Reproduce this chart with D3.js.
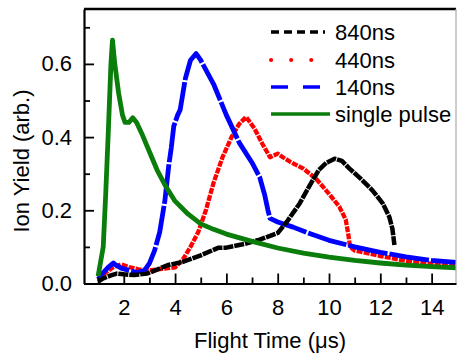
<!DOCTYPE html>
<html><head><meta charset="utf-8">
<script src="https://cdn.jsdelivr.net/npm/d3@7"></script>
<style>body{margin:0;background:#fff}svg{display:block;font-family:"Liberation Sans",Arial,sans-serif}</style>
</head><body><svg id="c" width="457" height="360"></svg>
<script>
const seriesNames = ["840ns","440ns","140ns","single pulse"];
const seriesColors = ["#000000","#ff0000","#0000ff","#0a7d0a"];
const xTicks = [2,4,6,8,10,12,14];
const yTicks = [0.0,0.2,0.4,0.6];
const yTickLabels = ["0.0","0.2","0.4","0.6"];

const t840 = [1.0,1.2,1.5,1.73,2.0,2.4,2.9,3.3,3.7,4.3,5.0,5.7,6.0,6.7,7.3,8.0,8.35,8.85,9.25,9.6,9.9,10.22,10.5,10.8,11.3,11.7,12.1,12.35,12.47,12.55];
const y840 = [0.005,0.014,0.022,0.027,0.025,0.023,0.027,0.038,0.05,0.059,0.077,0.098,0.098,0.108,0.12,0.138,0.168,0.218,0.268,0.31,0.33,0.341,0.335,0.314,0.282,0.254,0.218,0.182,0.15,0.105];

const t440 = [1.0,1.3,1.6,1.9,2.2,2.6,3.0,3.5,4.0,4.3,4.6,4.9,5.2,5.5,5.85,6.2,6.5,6.77,7.1,7.4,7.7,8.0,8.2,8.5,9.0,9.5,10.0,10.4,10.65,10.75,10.82,11.0,12.0,13.0,14.0,14.95];
const y440 = [0.01,0.03,0.045,0.052,0.045,0.038,0.036,0.04,0.044,0.065,0.1,0.14,0.2,0.275,0.345,0.4,0.436,0.455,0.423,0.382,0.345,0.355,0.345,0.332,0.314,0.286,0.245,0.21,0.175,0.135,0.1,0.09,0.075,0.062,0.054,0.048];

const t140 = [1.0,1.2,1.4,1.6,1.7,1.9,2.2,2.5,2.8,3.0,3.2,3.4,3.6,3.75,3.85,3.95,4.1,4.2,4.4,4.6,4.82,5.0,5.5,6.0,6.5,7.0,7.3,7.5,7.62,7.7,8.0,8.6,9.3,10.0,11.0,12.0,13.0,14.0,14.95];
const y140 = [0.012,0.03,0.045,0.056,0.05,0.042,0.036,0.03,0.035,0.055,0.09,0.14,0.225,0.32,0.37,0.43,0.46,0.475,0.56,0.61,0.628,0.61,0.545,0.46,0.385,0.33,0.29,0.24,0.2,0.178,0.168,0.154,0.135,0.118,0.1,0.085,0.073,0.063,0.058];

const tSingle = [1.0,1.2,1.3,1.4,1.5,1.56,1.65,1.8,1.95,2.05,2.2,2.35,2.5,2.7,3.0,3.3,3.6,4.0,4.5,5.0,5.5,6.0,7.0,8.0,9.0,10.0,11.0,12.0,13.0,14.0,14.95];
const ySingle = [0.02,0.1,0.25,0.42,0.6,0.665,0.6,0.52,0.46,0.44,0.44,0.453,0.44,0.41,0.36,0.31,0.27,0.225,0.19,0.163,0.148,0.135,0.115,0.097,0.083,0.072,0.063,0.056,0.05,0.046,0.043];

const W=457,H=360;
const svg=d3.select("#c");
const x=d3.scaleLinear().domain([0.45,14.95]).range([84,456]);
const y=d3.scaleLinear().domain([0,0.75]).range([283.5,9]);
const FS="22px";

const series=[
  {name:seriesNames[0],t:t840,v:y840,color:seriesColors[0],dash:"10,1",cap:"butt",w:4.5,legDash:"8,5"},
  {name:seriesNames[1],t:t440,v:y440,color:seriesColors[1],dash:"6,1.2",cap:"butt",w:4.3,legDash:"0.1,20"},
  {name:seriesNames[2],t:t140,v:y140,color:seriesColors[2],dash:"40,2",cap:"butt",w:4.8,legDash:"17,15"},
  {name:seriesNames[3],t:tSingle,v:ySingle,color:seriesColors[3],dash:null,cap:"butt",w:4.8,legDash:null}
];

const line=d3.line().x(d=>x(d[0])).y(d=>y(d[1]));
const g=svg.append("g");
const drawOrder=[1,2,0,3];
drawOrder.forEach(i=>{
  const s=series[i];
  g.append("path").datum(s.t.map((t,j)=>[t,s.v[j]]))
   .attr("d",line).attr("fill","none").attr("stroke",s.color)
   .attr("stroke-width",s.w).attr("stroke-linejoin","round").attr("stroke-linecap",s.cap)
   .attr("stroke-dasharray",s.dash);
});

// frame top and right
svg.append("line").attr("x1",84).attr("x2",456).attr("y1",9).attr("y2",9).attr("stroke","#000").attr("stroke-width",2.5);
svg.append("line").attr("x1",456).attr("x2",456).attr("y1",9).attr("y2",283.5).attr("stroke","#aaa").attr("stroke-width",1.2);

// axes
const xAxis=d3.axisBottom(x).tickValues(xTicks).tickSizeInner(-10).tickSizeOuter(0).tickPadding(16).tickFormat(d3.format("d"));
const xa=svg.append("g").attr("transform","translate(0,283.5)").call(xAxis);
const xMinor=d3.axisBottom(x).tickValues([1,3,5,7,9,11,13]).tickSizeInner(-6).tickSizeOuter(0).tickFormat("");
const xm=svg.append("g").attr("transform","translate(0,283.5)").call(xMinor);
xm.select(".domain").remove();
const yAxis=d3.axisLeft(y).tickValues(yTicks).tickSizeInner(-10).tickSizeOuter(0).tickPadding(12).tickFormat((d,i)=>yTickLabels[i]);
const ya=svg.append("g").attr("transform","translate(84,0)").call(yAxis);
const yMinor=d3.axisLeft(y).tickValues([0.1,0.3,0.5,0.7]).tickSizeInner(-6).tickSizeOuter(0).tickFormat("");
const ym=svg.append("g").attr("transform","translate(84,0)").call(yMinor);
ym.select(".domain").remove();
[xa,ya,xm,ym].forEach(a=>{
  a.selectAll("line").attr("stroke","#000").attr("stroke-width",1.8);
  a.selectAll(".domain").attr("stroke","#000").attr("stroke-width",2.2);
  a.selectAll("text").attr("font-size",FS).attr("font-family","Liberation Sans, Arial, sans-serif").attr("fill","#000");
});

// axis titles
svg.append("text").attr("x",270).attr("y",348).attr("text-anchor","middle").attr("font-size",FS).text("Flight Time (μs)");
svg.append("text").attr("transform","translate(29,161) rotate(-90)").attr("text-anchor","middle").attr("font-size",FS).text("Ion Yield (arb.)");

// legend
const legY=[32,60,87,114];
series.forEach((s,i)=>{
  svg.append("line").attr("x1",271).attr("x2",i===3?330:325).attr("y1",legY[i]).attr("y2",legY[i])
    .attr("stroke",s.color).attr("stroke-width",i===1?4:3.5)
    .attr("stroke-linecap",i===1?"round":"butt").attr("stroke-dasharray",s.legDash);
  svg.append("text").attr("x",335).attr("y",legY[i]).attr("dy","0.36em").attr("font-size",FS).text(s.name);
});
</script></body></html>
